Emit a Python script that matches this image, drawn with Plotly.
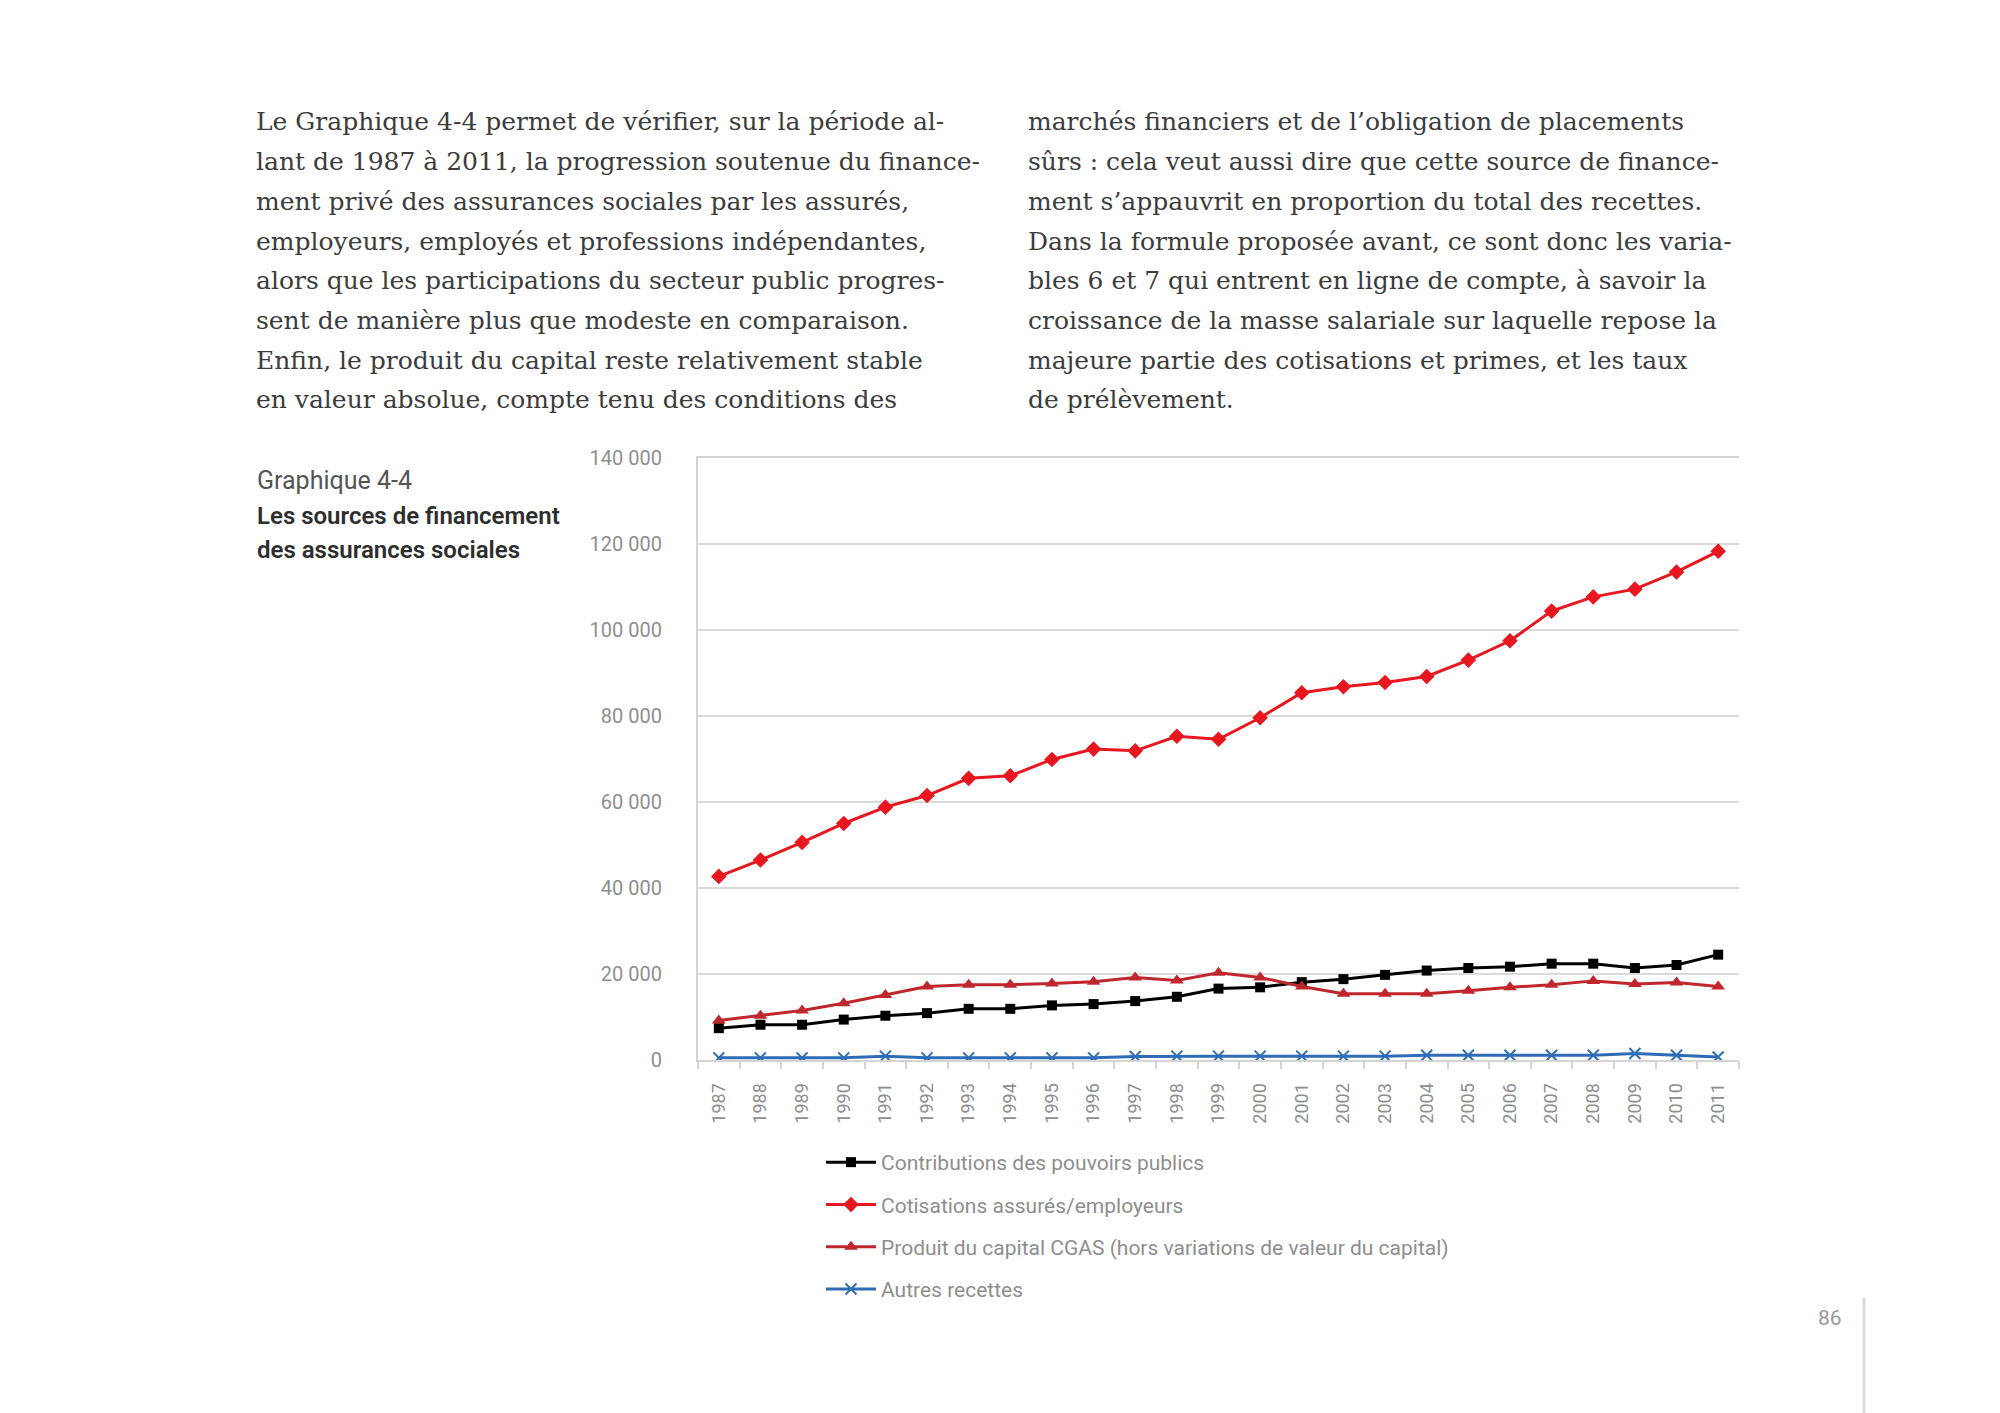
import plotly.graph_objects as go

# ---------------- data ----------------
years = [str(y) for y in range(1987, 2012)]

contributions_pouvoirs_publics = [7400, 8200, 8200, 9400, 10300, 10900, 11900, 11900, 12700, 13000,
                                  13700, 14700, 16600, 16900, 18100, 18800, 19800, 20800, 21400, 21700,
                                  22400, 22400, 21400, 22100, 24500]
cotisations_assures_employeurs = [42700, 46500, 50600, 55000, 58800, 61500, 65500, 66100, 69900, 72300,
                                  71900, 75300, 74600, 79600, 85400, 86800, 87800, 89200, 93000, 97500,
                                  104400, 107700, 109500, 113500, 118300]
produit_capital_cgas = [9200, 10300, 11500, 13200, 15100, 17100, 17500, 17500, 17800, 18200,
                        19200, 18500, 20300, 19200, 17100, 15400, 15400, 15400, 16100, 16900,
                        17500, 18400, 17700, 18000, 17100]
autres_recettes = [500, 500, 500, 500, 900, 500, 500, 500, 500, 500,
                   800, 900, 900, 900, 900, 900, 900, 1100, 1100, 1100,
                   1100, 1100, 1500, 1100, 700]

series_names = ["Contributions des pouvoirs publics",
                "Cotisations assurés/employeurs",
                "Produit du capital CGAS (hors variations de valeur du capital)",
                "Autres recettes"]

y_ticks = [0, 20000, 40000, 60000, 80000, 100000, 120000, 140000]

left_column = [
    "Le Graphique 4-4 permet de vérifier, sur la période al-",
    "lant de 1987 à 2011, la progression soutenue du finance-",
    "ment privé des assurances sociales par les assurés,",
    "employeurs, employés et professions indépendantes,",
    "alors que les participations du secteur public progres-",
    "sent de manière plus que modeste en comparaison.",
    "Enfin, le produit du capital reste relativement stable",
    "en valeur absolue, compte tenu des conditions des",
]
right_column = [
    "marchés financiers et de l’obligation de placements",
    "sûrs : cela veut aussi dire que cette source de finance-",
    "ment s’appauvrit en proportion du total des recettes.",
    "Dans la formule proposée avant, ce sont donc les varia-",
    "bles 6 et 7 qui entrent en ligne de compte, à savoir la",
    "croissance de la masse salariale sur laquelle repose la",
    "majeure partie des cotisations et primes, et les taux",
    "de prélèvement.",
]

# ---------------- layout geometry ----------------
W, H = 2000, 1413
PL, PR, PT, PB = 690, 1731, 450, 1052  # plot area in pixels


def px_x(x):
    return (x - PL) / (PR - PL)


def px_y(y):
    return (PB - y) / (PB - PT)


fig = go.Figure()

fig.add_trace(go.Scatter(
    x=years, y=contributions_pouvoirs_publics, name=series_names[0], legendgroup="a",
    mode="lines+markers", line=dict(color="#000000", width=3),
    marker=dict(symbol="square", size=10, color="#000000")))
fig.add_trace(go.Scatter(
    x=years, y=cotisations_assures_employeurs, name=series_names[1], legendgroup="b",
    mode="lines+markers", line=dict(color="#e8171f", width=3),
    marker=dict(symbol="diamond", size=12, color="#e8171f")))
fig.add_trace(go.Scatter(
    x=years, y=produit_capital_cgas, name=series_names[2], legendgroup="c",
    mode="lines+markers", line=dict(color="#c0272d", width=3),
    marker=dict(symbol="triangle-up", size=12, color="#c0272d")))
fig.add_trace(go.Scatter(
    x=years, y=autres_recettes, name=series_names[3], legendgroup="d",
    mode="lines+markers", line=dict(color="#2f6cb8", width=3),
    marker=dict(symbol="x-thin", size=11, color="#2f6cb8", line=dict(color="#2f6cb8", width=2))))

gray_txt = "#8e8e8e"
body_font = dict(family="DejaVu Serif", size=25, color="#3c3c3c")
annotations = []
line_y0, line_step = 114, 39.7
for i, t in enumerate(left_column):
    annotations.append(dict(text=t, x=px_x(246), y=px_y(line_y0 + i * line_step), xref="paper", yref="paper",
                            xanchor="left", yanchor="middle", showarrow=False, font=body_font))
for i, t in enumerate(right_column):
    annotations.append(dict(text=t, x=px_x(1018), y=px_y(line_y0 + i * line_step), xref="paper", yref="paper",
                            xanchor="left", yanchor="middle", showarrow=False, font=body_font))

annotations.append(dict(text="Graphique 4-4", x=px_x(247), y=px_y(472), xref="paper", yref="paper",
                        xanchor="left", yanchor="middle", showarrow=False,
                        font=dict(family="Roboto", size=25, color="#555555")))
annotations.append(dict(text="Les sources de financement", x=px_x(247), y=px_y(508), xref="paper", yref="paper",
                        xanchor="left", yanchor="middle", showarrow=False,
                        font=dict(family="Roboto", size=24, color="#2e2e2e", weight=600)))
annotations.append(dict(text="des assurances sociales", x=px_x(247), y=px_y(542), xref="paper", yref="paper",
                        xanchor="left", yanchor="middle", showarrow=False,
                        font=dict(family="Roboto", size=24, color="#2e2e2e", weight=600)))
annotations.append(dict(text="86", x=px_x(1836), y=px_y(1310), xref="paper", yref="paper",
                        xanchor="right", yanchor="middle", showarrow=False,
                        font=dict(family="Roboto", size=21, color="#999999")))

shapes = [dict(type="line", xref="paper", yref="paper", x0=px_x(1856), x1=px_x(1856),
               y0=px_y(1290), y1=px_y(1413), line=dict(color="#dcdcdc", width=3))]

fig.update_layout(
    width=W, height=H,
    margin=dict(l=PL, r=W - PR, t=PT, b=H - PB, pad=0),
    paper_bgcolor="white", plot_bgcolor="white",
    separators=", ",
    showlegend=True,
    legend=dict(x=px_x(813), y=px_y(1134), xanchor="left", yanchor="top",
                font=dict(family="Roboto", size=21, color=gray_txt),
                tracegroupgap=12, bgcolor="rgba(0,0,0,0)", itemwidth=50),
    annotations=annotations,
    shapes=shapes,
)

fig.update_xaxes(
    type="category", categoryorder="array", categoryarray=years,
    range=[-0.5, len(years) - 0.5],
    tickangle=-90, tickfont=dict(family="Roboto", size=18, color=gray_txt),
    showgrid=False, showline=True, linecolor="#d4d4d4", linewidth=2, mirror=True,
    ticks="outside", tickson="boundaries", ticklen=7, tickcolor="#d4d4d4", tickwidth=1.5,
    zeroline=False, ticklabelstandoff=14,
)
fig.update_yaxes(
    range=[0, 140000], tickvals=y_ticks, tickformat=",d",
    tickfont=dict(family="Roboto", size=20, color=gray_txt),
    showgrid=True, gridcolor="#dadada", gridwidth=1.5,
    showline=True, linecolor="#d4d4d4", linewidth=2,
    zeroline=False, ticks="", ticklabelstandoff=30,
)

fig.write_html("out.html")
